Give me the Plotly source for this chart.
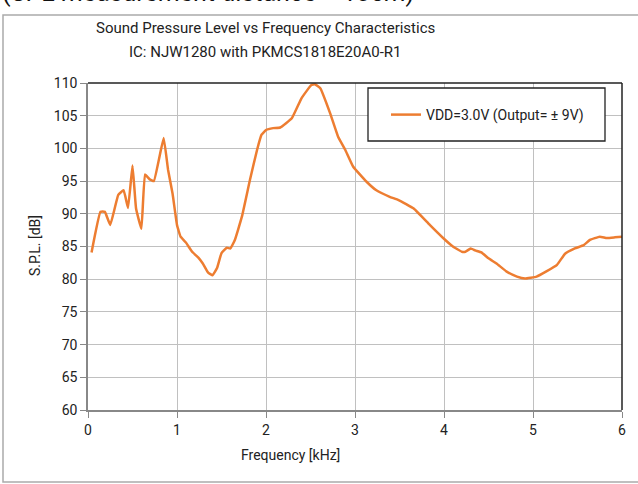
import plotly.graph_objects as go

freq_khz = [0.04, 0.14, 0.19, 0.25, 0.34, 0.40, 0.45, 0.50, 0.54, 0.60, 0.64, 0.69, 0.74,
            0.85, 0.90, 0.95, 1.00, 1.04, 1.10, 1.17, 1.24, 1.29, 1.35, 1.40, 1.45, 1.50,
            1.56, 1.60, 1.65, 1.73, 1.82, 1.90, 1.95, 2.00, 2.08, 2.16, 2.29, 2.40, 2.51,
            2.55, 2.61, 2.72, 2.81, 2.89, 2.98, 3.13, 3.24, 3.39, 3.49, 3.66, 3.84, 3.99,
            4.10, 4.20, 4.24, 4.30, 4.35, 4.42, 4.50, 4.59, 4.70, 4.82, 4.91, 5.04, 5.15,
            5.27, 5.36, 5.47, 5.57, 5.64, 5.75, 5.83, 5.92, 6.00]
spl_db = [84.1, 90.3, 90.3, 88.3, 92.9, 93.6, 90.9, 97.4, 90.8, 87.7, 96.0, 95.3, 95.0,
          101.6, 96.7, 93.1, 88.3, 86.5, 85.6, 84.2, 83.3, 82.4, 81.0, 80.6, 81.7, 84.0,
          84.8, 84.7, 86.0, 89.6, 95.2, 99.8, 102.1, 102.8, 103.1, 103.2, 104.6, 107.7, 109.7,
          109.8, 109.2, 105.4, 101.8, 99.8, 97.2, 94.9, 93.6, 92.6, 92.1, 90.8, 88.3, 86.3,
          85.0, 84.2, 84.2, 84.7, 84.4, 84.1, 83.2, 82.4, 81.2, 80.4, 80.1, 80.4, 81.2,
          82.2, 83.9, 84.7, 85.2, 86.0, 86.5, 86.3, 86.4, 86.5]

series_name = "VDD=3.0V (Output= ± 9V)"
title_lines = ["Sound Pressure Level vs Frequency Characteristics",
               "IC: NJW1280 with PKMCS1818E20A0-R1"]
x_ticks = [0, 1, 2, 3, 4, 5, 6]
y_ticks = [60, 65, 70, 75, 80, 85, 90, 95, 100, 105, 110]

W, H = 638, 484
L, R, T, B = 88, 16, 83, 74
pw, ph = W - L - R, H - T - B

def px(xp):
    return (xp - L) / pw

def py(yp):
    return 1 - (yp - T) / ph

fig = go.Figure()
fig.add_trace(go.Scatter(x=freq_khz, y=spl_db, mode="lines", name=series_name,
                         line=dict(color="#ED7D31", width=2.5, shape="spline", smoothing=0.3)))

tick_font = dict(family="Roboto, Liberation Sans, sans-serif", size=14, color="#222")
txt_font = dict(family="Roboto, sans-serif", size=15, color="#222")
fig.update_layout(
    width=W, height=H,
    margin=dict(l=L, r=R, t=T, b=B),
    paper_bgcolor="white", plot_bgcolor="white",
    showlegend=True,
    legend=dict(x=px(386), y=py(115), xanchor="left", yanchor="middle",
                borderwidth=0, bgcolor="rgba(0,0,0,0)",
                font=dict(family="Roboto, sans-serif", size=14, color="#222"),
                itemwidth=30, tracegroupgap=0),
    xaxis=dict(range=[0, 6], tickvals=x_ticks, showgrid=True, gridcolor="#c0c0c0", gridwidth=1,
               showline=True, linecolor="#888", linewidth=1.5, ticks="outside", ticklen=6,
               tickcolor="#888", tickfont=tick_font, zeroline=False),
    yaxis=dict(range=[60, 110], tickvals=y_ticks, showgrid=True, gridcolor="#c0c0c0", gridwidth=1,
               showline=True, linecolor="#888", linewidth=1.5, ticks="outside", ticklen=6,
               tickcolor="#888", tickfont=tick_font, zeroline=False),
    shapes=[
        dict(type="line", xref="paper", yref="paper", x0=0, x1=1, y0=1, y1=1,
             line=dict(color="#222", width=1.5)),
        dict(type="line", xref="paper", yref="paper", x0=1, x1=1, y0=0, y1=1,
             line=dict(color="#222", width=1.5)),
        dict(type="rect", xref="paper", yref="paper", x0=px(368), x1=px(605), y0=py(88), y1=py(141),
             line=dict(color="#222", width=1.3), fillcolor="white", layer="above"),
        dict(type="rect", xref="paper", yref="paper", x0=px(3), x1=px(660), y0=py(15), y1=py(482),
             line=dict(color="#aaa", width=1.5), layer="below"),
    ],
    annotations=[
        dict(text=title_lines[0], xref="paper", yref="paper", x=px(265), y=py(28),
             xanchor="center", yanchor="middle", showarrow=False, font=txt_font),
        dict(text=title_lines[1], xref="paper", yref="paper", x=px(265), y=py(52),
             xanchor="center", yanchor="middle", showarrow=False, font=txt_font),
        dict(text="S.P.L. [dB]", textangle=-90, xref="paper", yref="paper", x=px(35), y=py(246),
             xanchor="center", yanchor="middle", showarrow=False,
             font=dict(family="Roboto, sans-serif", size=14, color="#222")),
        dict(text="Frequency [kHz]", xref="paper", yref="paper", x=px(290), y=py(455),
             xanchor="center", yanchor="middle", showarrow=False,
             font=dict(family="Roboto, sans-serif", size=14, color="#222")),
        dict(text="(SPL measurement distance = 10cm)", xref="paper", yref="paper",
             x=px(0), y=py(9), xanchor="left", yanchor="bottom", showarrow=False,
             font=dict(family="Roboto, sans-serif", size=25, color="#111")),
    ],
)

fig.write_html("out.html", config={"displayModeBar": False},
               post_script="document.body.style.margin='0';document.body.style.overflow='hidden';")
